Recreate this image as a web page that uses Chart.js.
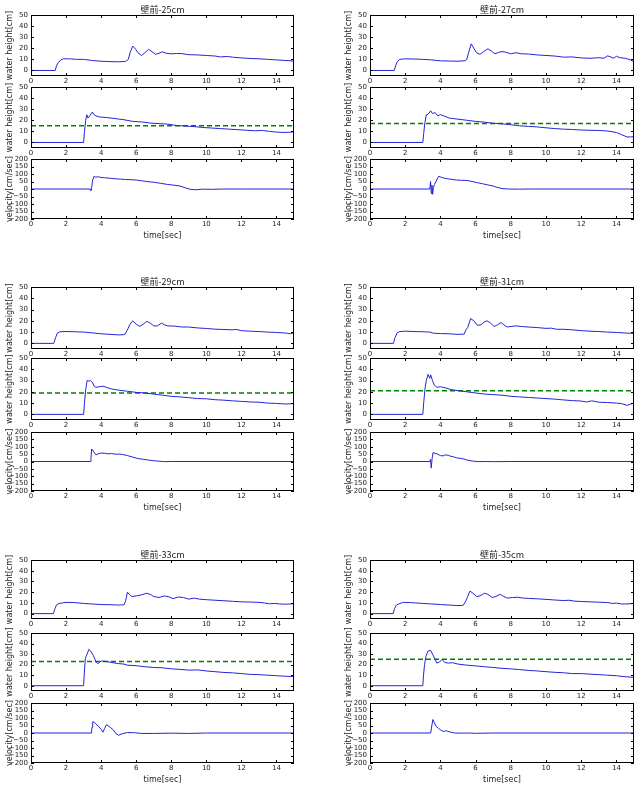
<!DOCTYPE html>
<html>
<head>
<meta charset="utf-8">
<script src="https://cdn.jsdelivr.net/npm/chart.js@4.4.0/dist/chart.umd.min.js"></script>
<style>
html, body { margin: 0; padding: 0; background: #fff; }
body { width: 642px; height: 798px; position: relative; overflow: hidden; }
canvas { position: absolute; }
</style>
</head>
<body>
<script>
// tick labels
const xTicks = [0, 2, 4, 6, 8, 10, 12, 14];
const heightTicks = [0, 10, 20, 30, 40, 50];
const velocityTicks = [-200, -150, -100, -50, 0, 50, 100, 150, 200];

const titles = ["壁前-25cm", "壁前-27cm", "壁前-29cm", "壁前-31cm", "壁前-33cm", "壁前-35cm"];
const dashedHeights = [15, 17, 19, 21, 23, 25];

// [time, value]
const top25 = [[0,0],[1.38,0],[1.45,4],[1.55,7],[1.7,9.5],[1.85,10.5],[2.2,10.5],[2.6,10],[3,10],[3.5,9],[4,8.3],[4.5,8],[5,7.8],[5.4,8.2],[5.55,10],[5.65,16],[5.8,22],[5.95,19.5],[6.1,16],[6.3,13.5],[6.5,16],[6.7,19],[6.9,17],[7.1,14.5],[7.3,15.5],[7.5,16.8],[7.7,15.5],[8,15],[8.3,15.3],[8.6,15.2],[9,14.2],[9.5,14],[10,13.5],[10.5,13],[10.8,12.2],[11.2,12.6],[11.5,12],[12,11.3],[12.5,10.8],[13,10.5],[13.5,10],[14,9.5],[14.5,9],[15,8.5]];
const mid25 = [[0,0],[3,0],[3.05,10],[3.12,20],[3.18,25],[3.25,22],[3.35,24],[3.5,27.5],[3.6,25],[3.7,24],[3.9,23],[4.3,22.5],[4.8,21.5],[5.3,20.5],[5.8,19],[6.3,18.5],[6.8,17.5],[7.3,17],[7.8,16.5],[8.3,15.3],[8.8,14.8],[9.3,14.3],[9.8,13.5],[10.3,13],[10.8,12.5],[11.3,12],[11.8,11.5],[12.3,11],[12.8,10.5],[13.2,10.8],[13.6,10],[14,9.3],[14.5,9],[15,9.5]];
const vel25 = [[0,0],[3.38,0],[3.42,-10],[3.46,10],[3.52,60],[3.6,85],[3.7,78],[3.8,82],[3.95,78],[4.2,75],[4.5,72],[4.8,68],[5.1,66],[5.4,63],[5.7,62],[6,60],[6.3,55],[6.6,50],[7,45],[7.4,38],[7.8,30],[8.2,25],[8.5,20],[8.8,8],[9.1,-3],[9.4,-5],[9.8,-1],[10.3,-2],[11,0],[12,0],[15,0]];

const top27 = [[0,0],[1.38,0],[1.45,4],[1.55,8],[1.7,10],[2,10.5],[2.5,10.3],[3,10],[3.5,9.5],[4,8.7],[4.5,8.5],[5,8.3],[5.4,8.8],[5.5,10],[5.6,16],[5.75,24],[5.9,20],[6.05,16],[6.25,14.5],[6.45,17],[6.7,19.5],[6.9,17.5],[7.1,15],[7.3,16.3],[7.5,17],[7.7,16.5],[8,15],[8.3,16],[8.6,15],[9,14.8],[9.5,14],[10,13.5],[10.5,13],[11,12],[11.5,12.2],[12,11.3],[12.5,11],[13,11.5],[13.3,11],[13.5,13.2],[13.7,12],[13.85,11],[14,12.8],[14.2,11.5],[14.5,11],[14.8,9.5],[15,8]];
const mid27 = [[0,0],[3,0],[3.05,8],[3.12,18],[3.2,25],[3.3,25.5],[3.45,28.5],[3.55,26],[3.7,27],[3.85,24],[4,25],[4.2,24],[4.5,22],[5,21],[5.5,20],[6,19],[6.5,18.3],[7,17.3],[7.5,16.8],[8,16],[8.5,15],[9,14.5],[9.5,14],[10,13.2],[10.5,12.5],[11,12],[11.5,11.7],[12,11.2],[12.5,11],[13,10.8],[13.5,10.3],[14,9],[14.3,7],[14.6,5],[14.8,5],[15,5.2]];
const vel27 = [[0,0],[3.4,0],[3.44,50],[3.48,-30],[3.52,25],[3.56,-35],[3.6,10],[3.66,30],[3.75,50],[3.9,85],[4.05,78],[4.3,70],[4.6,65],[4.9,60],[5.2,58],[5.5,57],[5.8,50],[6.1,42],[6.4,35],[6.7,27],[7,20],[7.2,12],[7.5,3],[7.8,0],[8.5,-1],[9,0],[15,0]];

const top29 = [[0,0],[1.3,0],[1.4,5],[1.5,9],[1.65,10.3],[2,10.5],[2.5,10.3],[3,10],[3.5,9.3],[4,8.5],[4.5,8],[5,7.5],[5.35,7.8],[5.5,12],[5.65,17],[5.8,20],[6,17],[6.2,15],[6.4,17],[6.6,19.5],[6.8,18],[7,15.5],[7.2,15.5],[7.45,18],[7.6,16.5],[7.8,15.5],[8.2,15.3],[8.6,14.5],[9,14.5],[9.5,13.7],[10,13.2],[10.5,12.6],[11,12.3],[11.5,12],[11.7,12.4],[12,11.3],[12.5,10.8],[13,10.5],[13.5,10],[14,9.7],[14.5,9.2],[14.8,8.5],[15,9.5]];
const mid29 = [[0,0],[3,0],[3.05,10],[3.12,22],[3.2,30],[3.3,29.5],[3.4,30],[3.5,28.5],[3.6,25],[3.7,24],[3.9,24.5],[4.1,25],[4.3,24],[4.6,22.5],[5,21.5],[5.5,20.5],[6,19.5],[6.5,19],[7,18],[7.5,17],[8,16],[8.5,15.5],[9,14.8],[9.5,14],[10,13.8],[10.5,13],[11,12.6],[11.5,12],[12,11.5],[12.5,11],[13,10.8],[13.5,10],[14,9.7],[14.5,9.2],[15,9.5]];
const vel29 = [[0,0],[3.38,0],[3.42,20],[3.46,85],[3.55,70],[3.7,45],[3.8,50],[3.95,57],[4.2,56],[4.4,52],[4.6,54],[4.8,50],[5,50],[5.2,48],[5.5,40],[5.8,30],[6.1,20],[6.4,15],[6.7,10],[7,5],[7.3,2],[7.6,-1],[8,0],[15,0]];

const top31 = [[0,0],[1.33,0],[1.42,5],[1.55,9.5],[1.7,10.5],[2,10.8],[2.5,10.5],[3,10.3],[3.4,10],[3.6,9],[4,8.7],[4.5,8.5],[5,8],[5.35,8.2],[5.45,12],[5.55,14],[5.72,22],[5.9,20],[6.1,16],[6.3,16.5],[6.5,19],[6.65,20],[6.85,18],[7.05,15],[7.25,16.5],[7.45,18.5],[7.6,16.5],[7.8,14.5],[8,15],[8.3,15.5],[8.6,15],[9,14.5],[9.5,14],[10,13.3],[10.3,13.5],[10.6,12.5],[11,12.5],[11.5,12],[12,11.3],[12.5,10.8],[13,10.5],[13.5,10],[14,9.7],[14.5,9.2],[15,8.8]];
const mid31 = [[0,0],[3,0],[3.05,10],[3.12,22],[3.2,30],[3.3,35.5],[3.4,32],[3.45,35],[3.55,30],[3.65,26],[3.8,24],[4,24.5],[4.3,23.5],[4.6,22],[5,21],[5.5,20],[6,19],[6.5,18],[7,17.5],[7.5,17],[8,16],[8.5,15.5],[9,15],[9.5,14.5],[10,14],[10.5,13.5],[11,12.8],[11.5,12.2],[12,11.8],[12.3,11],[12.6,12],[13,10.8],[13.5,10.5],[14,10],[14.3,9.5],[14.6,8],[14.8,9],[15,10]];
const vel31 = [[0,0],[3.4,0],[3.44,15],[3.48,-45],[3.53,20],[3.58,60],[3.7,55],[3.85,50],[4,40],[4.15,38],[4.3,45],[4.45,42],[4.6,35],[4.75,32],[4.9,25],[5.1,22],[5.3,18],[5.5,10],[5.8,3],[6.2,-1],[6.6,0],[7,-1],[8,0],[15,0]];

const top33 = [[0,0],[1.28,0],[1.35,4],[1.45,8],[1.6,9.5],[1.8,10],[2,10.5],[2.5,10.3],[3,9.5],[3.5,9],[4,8.5],[4.5,8.3],[5,8],[5.3,8.2],[5.4,12],[5.5,20],[5.6,18],[5.75,16],[6,16.5],[6.3,17.5],[6.6,19],[6.8,18],[7,16],[7.3,15],[7.6,16.5],[7.9,15.5],[8.1,14],[8.4,15.5],[8.7,15],[9,13.5],[9.3,14.5],[9.6,13.5],[10,13],[10.5,12.5],[11,12],[11.5,11.5],[12,11],[12.5,10.8],[13,10.5],[13.3,10],[13.6,9.2],[13.9,9.5],[14.2,9],[14.5,8.8],[15,9.2]];
const mid33 = [[0,0],[3,0],[3.04,12],[3.1,26],[3.2,30],[3.3,34.5],[3.4,33],[3.55,29],[3.7,23],[3.8,21],[3.9,22],[4,23.5],[4.3,23],[4.6,22],[5,21],[5.3,20.5],[5.5,19.5],[6,19],[6.5,18],[7,17.3],[7.5,17],[8,16],[8.5,15.5],[9,14.8],[9.5,15],[10,14],[10.5,13.3],[11,12.6],[11.5,12.2],[12,11.5],[12.5,10.8],[13,10.5],[13.5,10],[14,9.5],[14.5,9],[15,8.7]];
const vel33 = [[0,0],[3.45,0],[3.48,40],[3.52,75],[3.6,72],[3.7,60],[3.85,45],[4,25],[4.1,5],[4.2,30],[4.3,55],[4.4,48],[4.55,35],[4.7,20],[4.85,-5],[5,-15],[5.2,-5],[5.5,3],[5.9,2],[6.3,-3],[7,-3],[8,-1],[9,-3],[10,0],[15,0]];

const top35 = [[0,0],[1.32,0],[1.4,5],[1.5,8],[1.7,9.5],[1.9,10.5],[2.3,10.3],[3,9.5],[3.5,9],[4,8.5],[4.5,8],[5,7.5],[5.3,7.8],[5.45,12],[5.55,16],[5.68,21],[5.85,19],[6.05,16],[6.25,16.5],[6.5,19],[6.7,18],[6.95,15],[7.15,16],[7.4,18],[7.6,16],[7.8,14.5],[8.1,15],[8.4,15.3],[8.7,14.5],[9,14.2],[9.5,13.8],[10,13.3],[10.5,12.7],[11,12.2],[11.3,12.5],[11.6,11.7],[12,11.3],[12.5,11],[13,10.7],[13.5,10.3],[13.8,9.5],[14,9.8],[14.3,9],[14.6,9],[15,9.5]];
const mid35 = [[0,0],[3,0],[3.04,10],[3.1,20],[3.18,28],[3.3,33],[3.45,33.5],[3.55,30],[3.7,25],[3.8,21.5],[3.95,22.5],[4.1,25],[4.25,22],[4.45,21.5],[4.7,21.8],[5,20.5],[5.5,19.5],[6,18.8],[6.5,18],[7,17.3],[7.5,16.5],[8,16],[8.5,15.3],[9,14.5],[9.5,14],[10,13.3],[10.5,12.7],[11,12.3],[11.5,11.5],[12,11.5],[12.5,11],[13,10.5],[13.5,10],[14,9.5],[14.5,8.5],[15,8]];
const vel35 = [[0,0],[3.45,0],[3.5,40],[3.57,90],[3.65,70],[3.75,45],[3.9,30],[4.05,17],[4.2,10],[4.3,15],[4.4,12],[4.6,5],[4.8,0],[5.2,-1],[5.6,0],[6,-2],[7,0],[15,0]];

const groups = [
    { top: top25, mid: mid25, vel: vel25 },
    { top: top27, mid: mid27, vel: vel27 },
    { top: top29, mid: mid29, vel: vel29 },
    { top: top31, mid: mid31, vel: vel31 },
    { top: top33, mid: mid33, vel: vel33 },
    { top: top35, mid: mid35, vel: vel35 },
];

// page layout (pixels)
const PT = 22, PB = 30, YW = 31;
const cols = [
    { plotLeft: 31, plotRight: 294 },
    { plotLeft: 370, plotRight: 634 },
];
const rowSpans = [
    [[15, 76], [87, 148], [159, 219]],
    [[287, 349], [358, 420], [432, 491]],
    [[560, 619], [633, 691], [703, 763]],
];

Chart.defaults.font.family = "'DejaVu Sans', sans-serif";
Chart.defaults.color = "#222";

// matplotlib-like frame with inward ticks on all four sides
const frameTicks = {
    id: "frameTicks",
    afterDatasetsDraw(chart) {
        const { ctx, chartArea: a, scales } = chart;
        ctx.save();
        ctx.strokeStyle = "#000";
        ctx.lineWidth = 1;
        ctx.beginPath();
        scales.x.ticks.forEach((t) => {
            const px = Math.round(scales.x.getPixelForValue(t.value)) + 0.5;
            ctx.moveTo(px, a.bottom); ctx.lineTo(px, a.bottom - 3);
            ctx.moveTo(px, a.top); ctx.lineTo(px, a.top + 3);
        });
        scales.y.ticks.forEach((t) => {
            const py = Math.round(scales.y.getPixelForValue(t.value)) + 0.5;
            ctx.moveTo(a.left, py); ctx.lineTo(a.left + 3, py);
            ctx.moveTo(a.right, py); ctx.lineTo(a.right - 3, py);
        });
        ctx.stroke();
        ctx.strokeRect(Math.round(a.left) + 0.5, Math.round(a.top) + 0.5, Math.round(a.width) - 1, Math.round(a.height) - 1);
        ctx.restore();
    },
};

function toPoints(series) {
    return series.map(([x, y]) => ({ x: x, y: y }));
}

function addPlot(col, span, kind, series, title, dashY) {
    const isVel = kind === "vel";
    const xH = isVel ? 22 : 12;
    const plotW = col.plotRight - col.plotLeft;
    const plotH = span[1] - span[0];
    const w = YW + plotW + 10;
    const h = PT + plotH + xH + PB;

    const canvas = document.createElement("canvas");
    canvas.width = w;
    canvas.height = h;
    canvas.style.left = col.plotLeft - YW + "px";
    canvas.style.top = span[0] - PT + "px";
    canvas.style.width = w + "px";
    canvas.style.height = h + "px";
    document.body.appendChild(canvas);

    const datasets = [
        {
            data: toPoints(series),
            borderColor: "rgb(35,35,215)",
            borderWidth: 1,
            pointRadius: 0,
            tension: 0,
        },
    ];
    if (dashY !== undefined) {
        datasets.push({
            data: [{ x: 0, y: dashY }, { x: 15, y: dashY }],
            borderColor: "rgb(0,128,0)",
            borderWidth: 1.5,
            borderDash: [5, 3],
            pointRadius: 0,
        });
    }

    const yTickList = isVel ? velocityTicks : heightTicks;

    new Chart(canvas.getContext("2d"), {
        type: "line",
        data: { datasets: datasets },
        options: {
            responsive: false,
            animation: false,
            devicePixelRatio: 1,
            layout: { padding: { top: title ? PT - 10.8 : PT, bottom: PB, left: 0, right: 10 } },
            plugins: {
                legend: { display: false },
                tooltip: { enabled: false },
                title: {
                    display: !!title,
                    text: title || "",
                    fullSize: false,
                    font: { family: "'Noto Sans CJK SC', sans-serif", size: 9, weight: "normal" },
                    color: "#222",
                    padding: { top: 0, bottom: 0 },
                },
            },
            scales: {
                x: {
                    type: "linear",
                    min: 0,
                    max: 15,
                    grid: { display: false, drawTicks: false },
                    border: { display: false },
                    ticks: { font: { size: 7 }, padding: 1, autoSkip: false, maxRotation: 0 },
                    afterBuildTicks: (s) => { s.ticks = xTicks.map((v) => ({ value: v })); },
                    afterFit: (s) => { s.height = xH; },
                    title: {
                        display: isVel,
                        text: "time[sec]",
                        font: { size: 8 },
                        padding: { top: 0, bottom: 0 },
                    },
                },
                y: {
                    type: "linear",
                    min: isVel ? -200 : -5,
                    max: isVel ? 200 : 50,
                    grid: { display: false, drawTicks: false },
                    border: { display: false },
                    ticks: {
                        font: { size: 7 },
                        padding: 3,
                        autoSkip: false,
                        callback: (v) => (v < 0 ? "\u2212" + Math.abs(v) : String(v)),
                    },
                    afterBuildTicks: (s) => { s.ticks = yTickList.map((v) => ({ value: v })); },
                    afterFit: (s) => { s.width = YW; },
                    title: {
                        display: true,
                        text: isVel ? "velocity[cm/sec]" : "water height[cm]",
                        font: { size: 8 },
                        padding: { top: 5, bottom: 0 },
                    },
                },
            },
        },
        plugins: [frameTicks],
    });
}

groups.forEach((g, i) => {
    const col = cols[i % 2];
    const spans = rowSpans[Math.floor(i / 2)];
    addPlot(col, spans[0], "top", g.top, titles[i]);
    addPlot(col, spans[1], "mid", g.mid, null, dashedHeights[i]);
    addPlot(col, spans[2], "vel", g.vel, null);
});
</script>
</body>
</html>
